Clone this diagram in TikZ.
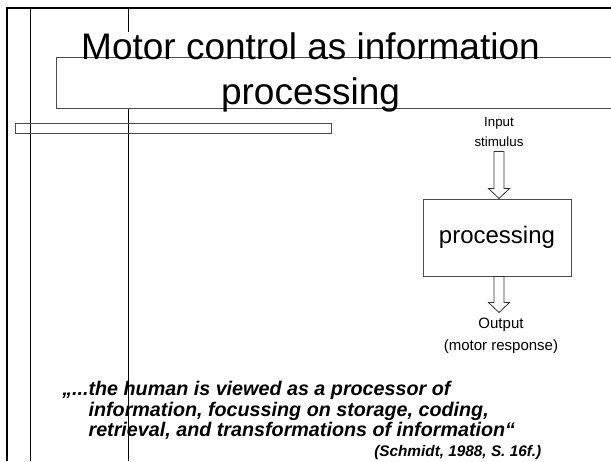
\documentclass[tikz,border=0pt]{standalone}
\usepackage{fontspec}
\setmainfont{Liberation Sans}
\usetikzlibrary{positioning}

\begin{document}
\begin{tikzpicture}[x=0.75pt,y=-0.75pt]
\tikzstyle{frame}=[line width=1.5pt]
\tikzstyle{rule}=[line width=0.6pt]
\tikzstyle{gbox}=[draw=black!70, line width=0.75pt]
\tikzstyle{lbl}=[inner sep=0pt, align=center]
\tikzstyle{blockarr}=[draw=black!80, line width=0.6pt, fill=white]
\useasboundingbox (0,0) rectangle (611,461);
%frame
\draw[frame] (6.5,461) -- (6.5,7.5) -- (611,7.5);
\draw[rule] (30.5,7.5) -- (30.5,461);
\draw[rule] (128,7.5) -- (128,461);
%title
\fill[white] (56,32) rectangle (611,108);
\draw[gbox] (612,57) -- (56,57) -- (56,108) -- (612,108);
\draw[gbox] (15,123) rectangle (331,133);
\node[lbl, anchor=north, font=\fontsize{27.75}{33.75}\selectfont] (title) at (310.5,32) {Motor control as information\\processing};
%diagram
\node[gbox, minimum width=111pt, minimum height=57.75pt, font=\fontsize{18}{22}\selectfont] (proc) at (497,237.5) {processing};
\node[lbl, font=\fontsize{10}{15}\selectfont] (stim) at (499,132) {Input\\stimulus};
\node[lbl, font=\fontsize{11.25}{16.5}\selectfont] (resp) at (501,336) {Output\\(motor response)};
\draw[blockarr] ([xshift=1.5pt]proc.north) -- ++(-10.5,-10) -- ++(5.5,0) -- ++(0,-37) -- ++(10,0) -- ++(0,37) -- ++(5.5,0) -- cycle;
\draw[blockarr] ([xshift=1.5pt]proc.south) ++(-5,0) -- ++(0,26) -- ++(-5.5,0) -- ++(10.5,10) -- ++(10.5,-10) -- ++(-5.5,0) -- ++(0,-26) -- cycle;
%quote
\node[lbl, align=left, anchor=north west, font=\fontsize{14.8}{15.4}\bfseries\itshape\selectfont] (quote) at (62,381)
  {„...the human is viewed as a processor of\\
   \hphantom{„...}information, focussing on storage, coding,\\
   \hphantom{„...}retrieval, and transformations of information“};
\node[lbl, anchor=base west, font=\fontsize{11.5}{13}\bfseries\itshape\selectfont] (cite) at (374,456) {(Schmidt, 1988, S. 16f.)};
\end{tikzpicture}
\end{document}
